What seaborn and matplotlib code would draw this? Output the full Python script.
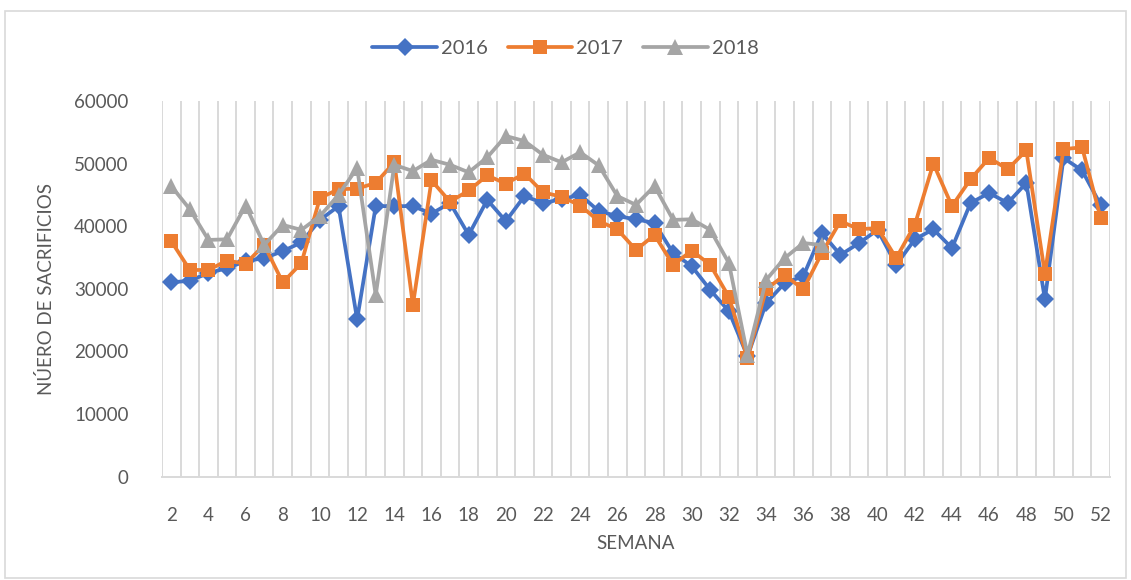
"""Weekly slaughter counts (2016-2018) as an Excel-style line chart."""

import matplotlib.pyplot as plt
import numpy as np
import pandas as pd
import seaborn as sns
from matplotlib.patches import Rectangle

WEEKS = list(range(2, 53))

SERIES_2016 = [
    31000, 31300, 32500, 33300, 34400, 34900, 36000, 37400, 41000, 43200,
    25100, 43200, 43200, 43200, 42000, 43700, 38600, 44200, 40800, 44800,
    43700, 44300, 45000, 42400, 41600, 41100, 40500, 35700, 33600, 29800,
    26400, 19200, 27700, 30900, 32000, 38900, 35400, 37300, 39400, 33800,
    37900, 39500, 36500, 43700, 45300, 43700, 46900, 28300, 50900, 48900,
    43400,
]
SERIES_2017 = [
    37600, 33000, 33000, 34500, 34000, 37000, 31000, 34100, 44500, 45900,
    46000, 46900, 50200, 27400, 47300, 43900, 45700, 48100, 46800, 48400,
    45400, 44700, 43300, 40800, 39500, 36200, 38600, 33800, 36100, 33800,
    28700, 18900, 29900, 32200, 29900, 35700, 40800, 39500, 39700, 34900,
    40200, 50000, 43200, 47500, 50900, 49100, 52100, 32400, 52300, 52600,
    41300,
]
# 2018 only runs to week 37
SERIES_2018 = [
    46400, 42700, 37800, 37900, 43300, 37000, 40200, 39400, 41600, 45000,
    49300, 29000, 49800, 48800, 50600, 49800, 48600, 51000, 54400, 53600,
    51400, 50200, 51800, 49700, 44800, 43400, 46400, 41000, 41100, 39400,
    34100, 19400, 31400, 34900, 37300, 37000,
]

YEARS = ["2016", "2017", "2018"]
COLORS = {"2016": "#4472C4", "2017": "#ED7D31", "2018": "#A5A5A5"}
MARKERS = {"2016": "D", "2017": "s", "2018": "^"}
MARKER_SIZES = {"2016": 9, "2017": 10, "2018": 11}
TEXT_COLOR = "#595959"
GRID_COLOR = "#D9D9D9"


def build_frame() -> pd.DataFrame:
    parts = []
    for year, values in zip(YEARS, [SERIES_2016, SERIES_2017, SERIES_2018]):
        parts.append(
            pd.DataFrame({"week": WEEKS[: len(values)], "value": values, "year": year})
        )
    return pd.concat(parts, ignore_index=True)


def main() -> None:
    df = build_frame()

    sns.set_theme(style="white")
    plt.rcParams["font.family"] = ["Lato", "DejaVu Sans"]

    fig = plt.figure(figsize=(11.31, 5.80), dpi=100)
    ax = fig.add_axes([0.1432, 0.1784, 0.8382, 0.6475])

    for year in YEARS:
        sns.lineplot(
            data=df[df["year"] == year],
            x="week",
            y="value",
            color=COLORS[year],
            marker=MARKERS[year],
            markersize=MARKER_SIZES[year],
            markeredgewidth=0,
            linewidth=2.7,
            label=year,
            ax=ax,
        )

    ax.set_xlim(1.5, 52.5)
    ax.set_ylim(0, 60000)
    ax.set_xticks(WEEKS[::2])
    ax.set_xticks(np.arange(1.5, 53, 1.0), minor=True)
    ax.set_yticks(range(0, 60001, 10000))
    ax.grid(False)
    ax.grid(True, which="minor", axis="x", color=GRID_COLOR, linewidth=1.4)
    ax.set_axisbelow(True)

    for side in ["top", "right", "left"]:
        ax.spines[side].set_visible(False)
    ax.spines["bottom"].set_color(GRID_COLOR)
    ax.spines["bottom"].set_linewidth(1.4)

    ax.tick_params(axis="x", which="major", length=0, pad=22,
                   labelsize=13.5, labelcolor=TEXT_COLOR)
    ax.tick_params(axis="x", which="minor", length=6, width=1.2,
                   color=GRID_COLOR, direction="out")
    ax.tick_params(axis="y", length=0, pad=24, labelsize=13.5, labelcolor=TEXT_COLOR)

    ax.set_xlabel("SEMANA", fontsize=13.5, color=TEXT_COLOR, labelpad=8)
    ax.set_ylabel("NÚERO DE SACRIFICIOS", fontsize=13.5, color=TEXT_COLOR, labelpad=14)

    ax.legend(
        loc="center",
        bbox_to_anchor=(0.5, 0.917),
        bbox_transform=fig.transFigure,
        ncol=3,
        frameon=False,
        fontsize=14.5,
        labelcolor=TEXT_COLOR,
        handlelength=3.2,
        columnspacing=1.0,
        handletextpad=0.2,
    )

    fig.patches.append(
        Rectangle((0.004, 0.004), 0.992, 0.977, transform=fig.transFigure,
                  fill=False, edgecolor=GRID_COLOR, linewidth=1.2)
    )

    fig.savefig("out.png", dpi=100)
    plt.close(fig)


if __name__ == "__main__":
    main()
